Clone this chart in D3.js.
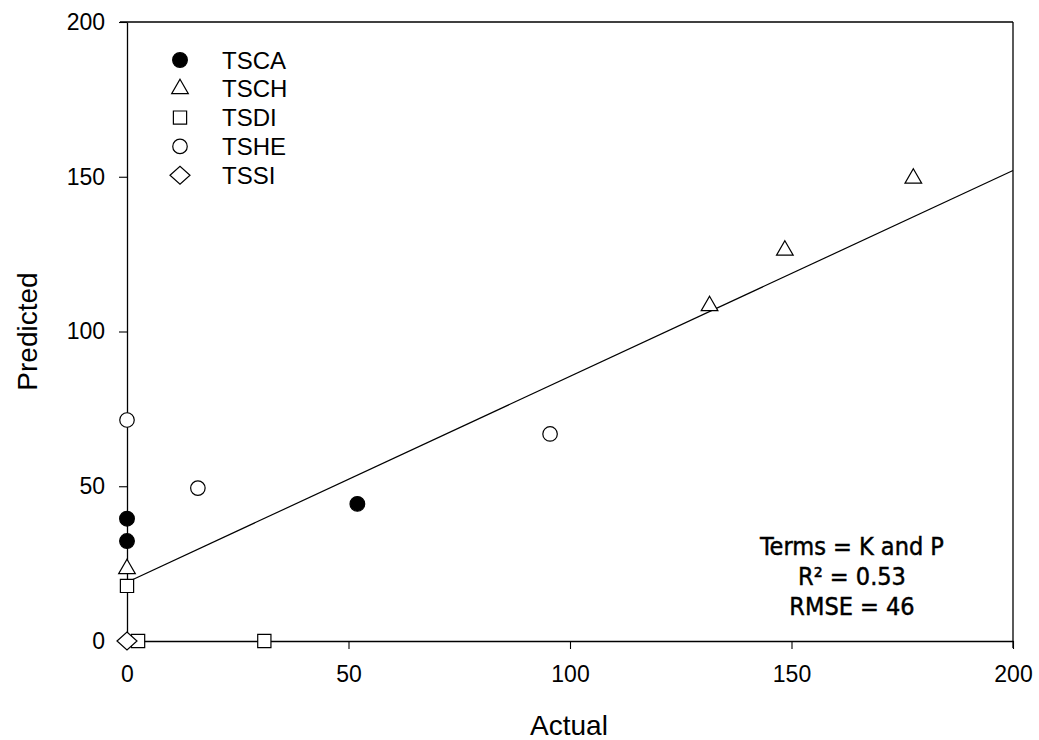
<!DOCTYPE html>
<html>
<head>
<meta charset="utf-8">
<script src="https://cdn.jsdelivr.net/npm/d3@7"></script>
<style>
  html, body { margin: 0; padding: 0; background: #fff; }
  svg { display: block; }
  text { fill: #000; }
</style>
</head>
<body>
<svg id="chart" width="1039" height="740"></svg>
<script>
// Predicted vs actual values for each site group
const seriesNames = ["TSCA", "TSCH", "TSDI", "TSHE", "TSSI"];
const tscaActual = [0, 0, 52];
const tscaPredicted = [39.5, 32.3, 44.3];
const tschActual = [0, 131.5, 148.5, 177.5];
const tschPredicted = [23.3, 108.3, 126.2, 149.5];
const tsdiActual = [0, 2.5, 31];
const tsdiPredicted = [17.8, 0, 0];
const tsheActual = [0, 16, 95.5];
const tshePredicted = [71.4, 49.4, 66.9];
const tssiActual = [0];
const tssiPredicted = [0];

// Fitted regression line end points
const fitActual = [0, 200];
const fitPredicted = [19, 152];

const xTicks = [0, 50, 100, 150, 200];
const yTicks = [0, 50, 100, 150, 200];
const statsLines = ["Terms = K and P", "R\u00B2 = 0.53", "RMSE = 46"];

const svg = d3.select("#chart");
const margin = { left: 127, right: 26, top: 22, bottom: 99 };
const W = 1039, H = 740;

const x = d3.scaleLinear().domain([0, 200]).range([margin.left, W - margin.right]);
const y = d3.scaleLinear().domain([0, 200]).range([H - margin.bottom, margin.top]);

const font = "'Liberation Sans', Arial, sans-serif";

// Frame: top and right borders
svg.append("line")
  .attr("x1", x(0) - 7).attr("x2", x(200))
  .attr("y1", y(200)).attr("y2", y(200))
  .attr("stroke", "#000").attr("stroke-width", 1.3);
svg.append("line")
  .attr("x1", x(200)).attr("x2", x(200))
  .attr("y1", y(200)).attr("y2", y(0) + 7)
  .attr("stroke", "#000").attr("stroke-width", 1.3);

// Axes
const xAxis = svg.append("g")
  .attr("transform", `translate(0,${y(0)})`)
  .call(d3.axisBottom(x).tickValues(xTicks).tickSize(8).tickPadding(17).tickSizeOuter(0));
const yAxis = svg.append("g")
  .attr("transform", `translate(${x(0)},0)`)
  .call(d3.axisLeft(y).tickValues(yTicks).tickSize(8).tickPadding(14).tickSizeOuter(0));

[xAxis, yAxis].forEach(g => {
  g.select(".domain").attr("stroke", "#000").attr("stroke-width", 1.3);
  g.selectAll(".tick line").attr("stroke", "#000").attr("stroke-width", 1.1);
  g.selectAll(".tick text")
    .attr("font-family", font).attr("font-size", 23).attr("fill", "#000");
});

// Axis titles
svg.append("text")
  .attr("x", x(100) - 1).attr("y", 735)
  .attr("text-anchor", "middle")
  .attr("font-family", font).attr("font-size", 28)
  .text("Actual");
svg.append("text")
  .attr("transform", `translate(37,${(y(0) + y(200)) / 2}) rotate(-90)`)
  .attr("text-anchor", "middle")
  .attr("font-family", font).attr("font-size", 28)
  .text("Predicted");

// Fitted line
const fitData = fitActual.map((a, i) => [a, fitPredicted[i]]);
svg.append("path")
  .datum(fitData)
  .attr("d", d3.line().x(d => x(d[0])).y(d => y(d[1])))
  .attr("fill", "none").attr("stroke", "#000").attr("stroke-width", 1.2);

// Marker shapes per series
const markers = {
  TSCA: { type: d3.symbolCircle, size: 170, fill: "#000" },
  TSCH: { type: d3.symbolTriangle, size: 120, fill: "#fff" },
  TSDI: { type: d3.symbolSquare, size: 175, fill: "#fff" },
  TSHE: { type: d3.symbolCircle, size: 165, fill: "#fff" },
  TSSI: { type: d3.symbolDiamond, size: 150, fill: "#fff" }
};

function symbolPath(name) {
  const m = markers[name];
  if (name === "TSSI") {
    // wide diamond
    const w = 10, h = 9;
    return `M${-w},0L0,${-h}L${w},0L0,${h}Z`;
  }
  return d3.symbol().type(m.type).size(m.size)();
}

const series = [
  { name: "TSCA", xs: tscaActual, ys: tscaPredicted },
  { name: "TSCH", xs: tschActual, ys: tschPredicted },
  { name: "TSDI", xs: tsdiActual, ys: tsdiPredicted },
  { name: "TSHE", xs: tsheActual, ys: tshePredicted },
  { name: "TSSI", xs: tssiActual, ys: tssiPredicted }
];

const pts = svg.append("g");
series.forEach(s => {
  const data = s.xs.map((a, i) => [a, s.ys[i]]);
  pts.selectAll(null)
    .data(data)
    .enter().append("path")
    .attr("d", symbolPath(s.name))
    .attr("transform", d => `translate(${x(d[0])},${y(d[1])})`)
    .attr("fill", markers[s.name].fill)
    .attr("stroke", "#000").attr("stroke-width", 1.2);
});

// Legend
const legend = svg.append("g");
seriesNames.forEach((name, i) => {
  const cy = 60 + i * 28.8;
  legend.append("path")
    .attr("d", symbolPath(name))
    .attr("transform", `translate(180,${cy})`)
    .attr("fill", markers[name].fill)
    .attr("stroke", "#000").attr("stroke-width", 1.2);
  legend.append("text")
    .attr("x", 222).attr("y", cy)
    .attr("dy", "0.36em")
    .attr("font-family", font).attr("font-size", 24)
    .text(name);
});

// Fit statistics
const stats = svg.append("text")
  .attr("text-anchor", "middle")
  .attr("font-family", "'DejaVu Sans Condensed', 'DejaVu Sans', sans-serif")
  .attr("font-size", 25)
  .attr("stroke", "#000").attr("stroke-width", 0.45);
statsLines.forEach((line, i) => {
  stats.append("tspan")
    .attr("x", 852).attr("y", 555 + i * 30)
    .text(line);
});
</script>
</body>
</html>
